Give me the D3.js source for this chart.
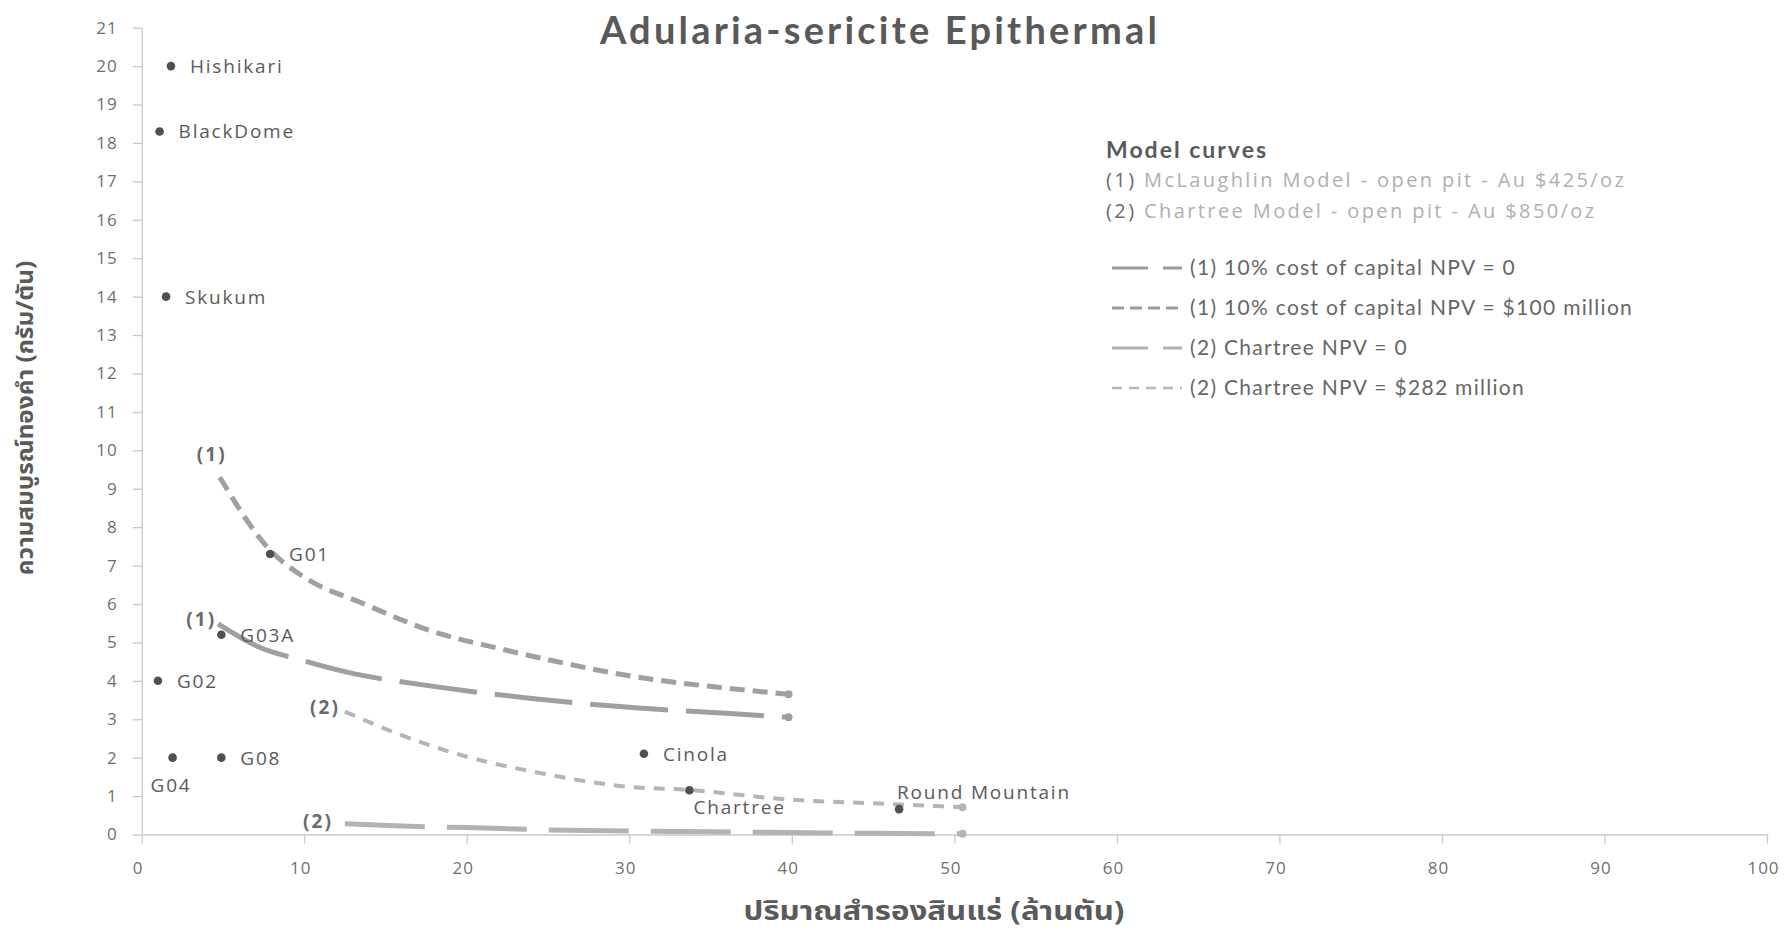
<!DOCTYPE html>
<html>
<head>
<meta charset="utf-8">
<script src="https://cdn.jsdelivr.net/npm/d3@7"></script>
<style>
  html, body { margin: 0; padding: 0; background: #ffffff; }
  svg { display: block; }
</style>
</head>
<body>
<svg id="chart" width="1788" height="932"></svg>
<script>
// ---------------- DATA ----------------
const sites = ["Hishikari", "BlackDome", "Skukum", "G01", "G03A", "G02", "G04", "G08", "Cinola", "Chartree", "Round Mountain"];
const siteTonnage = [1.8, 1.1, 1.5, 7.9, 4.9, 1.0, 1.9, 4.9, 30.9, 33.7, 46.6];   // million tonnes
const siteGrade   = [20.0, 18.3, 14.0, 7.3, 5.2, 4.0, 2.0, 2.0, 2.1, 1.15, 0.66]; // g/t

// (1) 10% cost of capital NPV = 0
const mcl0X = [4.7, 7.1, 10.0, 12.5, 18.4, 24.0, 30.0, 36.2, 39.8];
const mcl0Y = [5.48, 4.90, 4.52, 4.24, 3.83, 3.54, 3.31, 3.15, 3.05];
// (1) 10% cost of capital NPV = $100 million
const mcl100X = [4.8, 7.9, 9.8, 13.7, 17.8, 21.9, 25.0, 30.0, 36.2, 39.8];
const mcl100Y = [9.30, 7.40, 6.75, 6.00, 5.30, 4.85, 4.55, 4.13, 3.80, 3.65];
// (2) Chartree NPV = 0
const chart0X = [12.5, 16.0, 20.0, 25.0, 30.0, 35.0, 40.0, 45.0, 50.5];
const chart0Y = [0.28, 0.22, 0.18, 0.12, 0.09, 0.07, 0.05, 0.03, 0.02];
// (2) Chartree NPV = $282 million
const chart282X = [12.5, 15.7, 19.8, 24.5, 30.0, 33.7, 39.5, 46.2, 50.5];
const chart282Y = [3.20, 2.63, 2.05, 1.60, 1.24, 1.16, 0.92, 0.79, 0.71];

const xTicks = [0, 10, 20, 30, 40, 50, 60, 70, 80, 90, 100];
const yTicks = d3.range(0, 22, 1);

const titleText = "Adularia-sericite Epithermal";
const xTitle = "ปริมาณสำรองสินแร่ (ล้านตัน)";
const yTitle = "ความสมบูรณ์ทองคำ (กรัม/ตัน)";
const legendHeader = "Model curves";
const modelNames = ["McLaughlin Model - open pit - Au $425/oz", "Chartree Model - open pit - Au $850/oz"];
const legendLabels = ["(1) 10% cost of capital NPV = 0", "(1) 10% cost of capital NPV = $100 million", "(2) Chartree NPV = 0", "(2) Chartree NPV = $282 million"];
const curveTags = ["(1)", "(1)", "(2)", "(2)"];

// ---------------- DRAW ----------------
const svg = d3.select("#chart");
const x = d3.scaleLinear().domain([0, 100]).range([141.7, 1767]);
const y = d3.scaleLinear().domain([0, 21]).range([834.5, 27.7]);

const axisColor = "#c8c8c8";
const tickColor = "#707070";
const labelFont = "'Open Sans', 'Noto Sans', sans-serif";
const thaiFont = "'Noto Sans Thai', 'Loma', 'Garuda', 'Norasi', 'Tlwg Typist', 'Waree', 'Noto Sans', 'DejaVu Sans', sans-serif";

// Axes
const xAxis = d3.axisBottom(x).tickValues(xTicks).tickSize(9).tickSizeOuter(0).tickPadding(18);
const gx = svg.append("g").attr("transform", `translate(0,${y(0)})`).call(xAxis);
const yAxis = d3.axisLeft(y).tickValues(yTicks).tickSize(9).tickSizeOuter(0).tickPadding(15);
const gy = svg.append("g").attr("transform", `translate(${x(0)},0)`).call(yAxis);
[gx, gy].forEach(g => {
  g.select(".domain").attr("stroke", axisColor).attr("stroke-width", 1.3);
  g.selectAll(".tick line").attr("stroke", axisColor).attr("stroke-width", 1.3);
  g.selectAll(".tick text").attr("fill", tickColor).attr("font-family", labelFont)
    .attr("font-size", 17).attr("letter-spacing", "1px");
});
gx.selectAll(".tick text").attr("dx", "-4");

// Curves
const curves = [
  {xs: mcl0X, ys: mcl0Y, color: "#9f9f9f", w: 5, dash: "78,18", tag: 0},
  {xs: mcl100X, ys: mcl100Y, color: "#a0a0a0", w: 5, dash: "15,8", tag: 1},
  {xs: chart0X, ys: chart0Y, color: "#b3b3b3", w: 5, dash: "80,22", tag: 2},
  {xs: chart282X, ys: chart282Y, color: "#b5b5b5", w: 4, dash: "11,9", tag: 3}
];
const line = d3.line().curve(d3.curveMonotoneX);
curves.forEach(c => {
  const pts = c.xs.map((v, i) => [x(v), y(c.ys[i])]);
  svg.append("path").attr("d", line(pts)).attr("fill", "none")
    .attr("stroke", c.color).attr("stroke-width", c.w).attr("stroke-dasharray", c.dash)
    .attr("stroke-linecap", "butt");
  const last = pts[pts.length - 1];
  svg.append("circle").attr("cx", last[0]).attr("cy", last[1]).attr("r", 4).attr("fill", c.color);
});

// Curve tags
const tagPos = [
  {dx: -2, dy: 2, anchor: "end"},
  {dx: -8, dy: -16, anchor: "middle"},
  {dx: -12, dy: 4, anchor: "end"},
  {dx: -5, dy: 2, anchor: "end"}
];
curves.forEach((c, i) => {
  const p = tagPos[i];
  svg.append("text").text(curveTags[c.tag])
    .attr("x", x(c.xs[0]) + p.dx).attr("y", y(c.ys[0]) + p.dy)
    .attr("text-anchor", p.anchor).attr("font-family", labelFont).attr("font-weight", "bold")
    .attr("font-size", 19).attr("letter-spacing", "2px").attr("fill", "#6a6a6a");
});

// Site points
const labelPlace = {
  "G04": {dx: -22, dy: 34, anchor: "start"},
  "Chartree": {dx: 4, dy: 24, anchor: "start"},
  "Round Mountain": {dx: -2, dy: -10, anchor: "start"}
};
sites.forEach((s, i) => {
  const cx = x(siteTonnage[i]), cy = y(siteGrade[i]);
  svg.append("circle").attr("cx", cx).attr("cy", cy).attr("r", 4.3).attr("fill", "#505050");
  const p = labelPlace[s] || {dx: 19, dy: 7, anchor: "start"};
  svg.append("text").text(s).attr("x", cx + p.dx).attr("y", cy + p.dy)
    .attr("text-anchor", p.anchor).attr("font-family", labelFont).attr("font-size", 19)
    .attr("letter-spacing", "1.8px").attr("fill", "#5a5a5a");
});

// Title
svg.append("text").text(titleText).attr("x", 880).attr("y", 44).attr("text-anchor", "middle")
  .attr("font-family", "Lato, 'Open Sans', sans-serif").attr("font-weight", "bold")
  .attr("font-size", 38).attr("letter-spacing", "3.2px").attr("fill", "#595959");

// Axis titles
svg.append("text").text(xTitle).attr("transform", "translate(934,920) scale(1.2,1)").attr("text-anchor", "middle")
  .attr("font-family", thaiFont).attr("font-weight", "bold").attr("font-size", 26).attr("fill", "#5a5a5a");
svg.append("text").text(yTitle).attr("transform", "translate(33,418) rotate(-90) scale(1.06,1)").attr("text-anchor", "middle")
  .attr("font-family", thaiFont).attr("font-weight", "bold").attr("font-size", 23).attr("fill", "#5a5a5a");

// Legend
const lg = svg.append("g");
lg.append("text").text(legendHeader).attr("x", 1106).attr("y", 158)
  .attr("font-family", "Lato, 'Open Sans', sans-serif").attr("font-weight", "bold").attr("font-size", 23)
  .attr("letter-spacing", "2px").attr("fill", "#5a5a5a");
modelNames.forEach((m, i) => {
  const t = lg.append("text").attr("x", 1106).attr("y", 187 + i * 31)
    .attr("font-family", labelFont).attr("font-size", 20).attr("letter-spacing", "2.4px");
  t.append("tspan").text(`(${i + 1}) `).attr("fill", "#6a6a6a");
  t.append("tspan").text(m).attr("fill", "#b0b0b0");
});
const legendDash = ["36,15", "12,6", "36,15", "10,7"];
const legendColor = ["#9a9a9a", "#9a9a9a", "#b0b0b0", "#b8b8b8"];
const legendW = [3, 3, 3, 2.5];
legendLabels.forEach((l, i) => {
  const yy = 268 + i * 40;
  lg.append("line").attr("x1", 1112).attr("x2", 1182).attr("y1", yy).attr("y2", yy)
    .attr("stroke", legendColor[i]).attr("stroke-width", legendW[i]).attr("stroke-dasharray", legendDash[i]);
  lg.append("text").text(l).attr("x", 1190).attr("y", yy + 7)
    .attr("font-family", "Lato, 'Open Sans', sans-serif").attr("font-size", 21).attr("letter-spacing", "1.3px").attr("fill", "#666666");
});
</script>
</body>
</html>
